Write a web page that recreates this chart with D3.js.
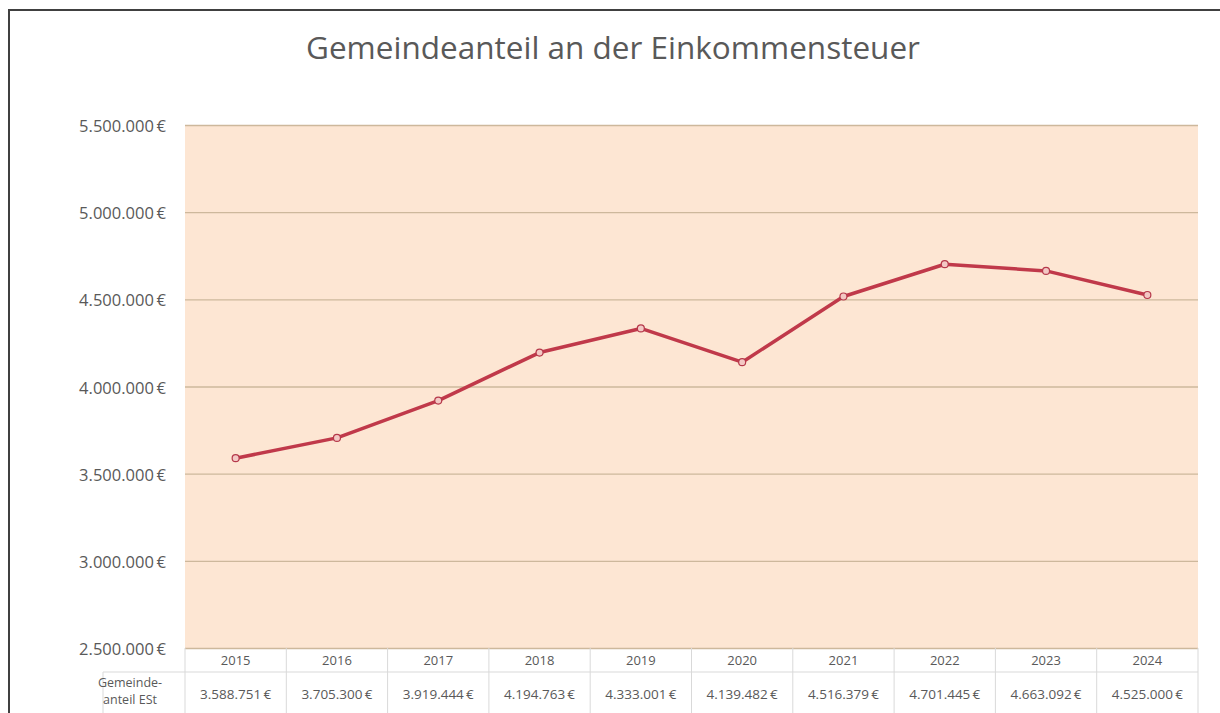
<!DOCTYPE html>
<head>
	<script src="https://d3js.org/d3.v7.min.js"></script>
	<style>
		body { margin: 0; background: #fff; }
		text { font-family: "Open Sans", sans-serif; fill: #595959; }
	</style>
</head>
<body>
<svg></svg>
<script>
	var years = ["2015", "2016", "2017", "2018", "2019", "2020", "2021", "2022", "2023", "2024"];
	var values = [3588751, 3705300, 3919444, 4194763, 4333001, 4139482, 4516379, 4701445, 4663092, 4525000];
	var yTicks = [2500000, 3000000, 3500000, 4000000, 4500000, 5000000, 5500000];
	var seriesLabel = ["Gemeinde-", "anteil ESt"];
	var title = "Gemeindeanteil an der Einkommensteuer";

	var width = 1220, height = 713;
	var plot = { left: 185, right: 1198, top: 125, bottom: 648 };

	// German number format: 4.194.763 €
	var de = d3.formatLocale({ decimal: ",", thousands: ".", grouping: [3], currency: ["", " €"] });
	var fmt = function(v) { return de.format(",.0f")(v) + "\u2009€"; };

	var svg = d3.select("svg").attr("width", width).attr("height", height);

	// outer frame (only top and left visible in the crop)
	svg.append("rect")
		.attr("x", 9).attr("y", 10)
		.attr("width", 1240).attr("height", 740)
		.attr("fill", "#fff")
		.attr("stroke", "#404040")
		.attr("stroke-width", 2);

	var xScale = d3.scaleBand()
		.domain(years)
		.range([plot.left, plot.right]);

	var yScale = d3.scaleLinear()
		.domain([2500000, 5500000])
		.range([plot.bottom, plot.top]);

	svg.append("rect")
		.attr("x", plot.left).attr("y", plot.top)
		.attr("width", plot.right - plot.left)
		.attr("height", plot.bottom - plot.top)
		.attr("fill", "#fde6d3");

	var yAxis = d3.axisLeft(yScale)
		.tickValues(yTicks)
		.tickSize(-(plot.right - plot.left))
		.tickFormat(function(d) { return de.format(",.0f")(d) + "\u2009€"; });

	var gy = svg.append("g")
		.attr("transform", "translate(" + plot.left + ",0)")
		.call(yAxis);
	gy.select(".domain").remove();
	gy.selectAll("line").attr("stroke", "#cdb89c").attr("stroke-width", 1.3);
	gy.selectAll("text")
		.attr("x", -19)
		.attr("dy", "0.4em")
		.attr("font-size", 16.5)
		.style("font-family", "Open Sans, sans-serif")
		.attr("fill", "#595959");

	// title
	svg.append("text")
		.attr("x", 613).attr("y", 59)
		.attr("text-anchor", "middle")
		.attr("font-size", 31.5)
		.text(title);

	// line + markers
	var line = d3.line()
		.x(function(d, i) { return xScale(years[i]) + xScale.bandwidth() / 2; })
		.y(function(d) { return yScale(d); });

	svg.append("path")
		.datum(values)
		.attr("d", line)
		.attr("fill", "none")
		.attr("stroke", "#c0394a")
		.attr("stroke-width", 3.5)
		.attr("stroke-linejoin", "round");

	svg.selectAll(".pt")
		.data(values)
		.enter()
		.append("circle")
		.attr("class", "pt")
		.attr("cx", function(d, i) { return xScale(years[i]) + xScale.bandwidth() / 2; })
		.attr("cy", function(d) { return yScale(d); })
		.attr("r", 3.5)
		.attr("fill", "#f3c8c4")
		.attr("stroke", "#b5384a")
		.attr("stroke-width", 1.2);

	// data table
	var rowTop = plot.bottom, rowMid = 672, rowBot = 720;
	var grid = svg.append("g").attr("stroke", "#d9d9d9").attr("stroke-width", 1);
	var edges = xScale.domain().map(function(y) { return xScale(y); }).concat([plot.right]);
	grid.selectAll("line.v")
		.data(edges)
		.enter()
		.append("line")
		.attr("x1", function(d) { return d; }).attr("x2", function(d) { return d; })
		.attr("y1", rowTop).attr("y2", rowBot);
	grid.append("line").attr("x1", plot.left).attr("x2", plot.right).attr("y1", rowMid).attr("y2", rowMid);
	grid.append("line").attr("x1", 103).attr("x2", plot.left).attr("y1", rowMid).attr("y2", rowMid);
	grid.append("line").attr("x1", 103).attr("x2", 103).attr("y1", rowMid).attr("y2", rowBot);

	svg.selectAll(".yr")
		.data(years)
		.enter()
		.append("text")
		.attr("class", "yr")
		.attr("x", function(d) { return xScale(d) + xScale.bandwidth() / 2; })
		.attr("y", 665)
		.attr("text-anchor", "middle")
		.attr("font-size", 13)
		.text(function(d) { return d; });

	svg.selectAll(".val")
		.data(values)
		.enter()
		.append("text")
		.attr("class", "val")
		.attr("x", function(d, i) { return xScale(years[i]) + xScale.bandwidth() / 2; })
		.attr("y", 699)
		.attr("text-anchor", "middle")
		.attr("font-size", 13.5)
		.text(function(d) { return fmt(d); });

	svg.selectAll(".lbl")
		.data(seriesLabel)
		.enter()
		.append("text")
		.attr("class", "lbl")
		.attr("x", 130)
		.attr("y", function(d, i) { return 687 + i * 17; })
		.attr("text-anchor", "middle")
		.attr("font-size", 12.5)
		.text(function(d) { return d; });
</script>
</body>
</html>
